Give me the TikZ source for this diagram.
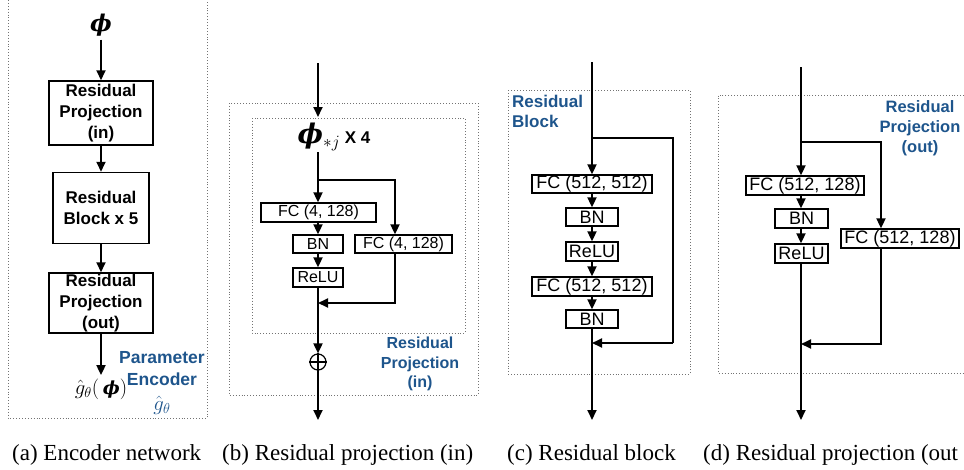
\documentclass[tikz,border=0pt]{standalone}
\usepackage{amsmath}
\usepackage{fontspec}
\setmainfont{Liberation Serif}
\setsansfont{Liberation Sans}
\newfontfamily\phifont{DejaVu Serif}
\usetikzlibrary{arrows.meta}
\definecolor{pblue}{RGB}{30,85,140}
\newcommand{\bphi}{{\phifont\bfseries\itshape ϕ}}
\begin{document}
\begin{tikzpicture}[x=1pt,y=-1pt,
  arw/.style={line width=1.8pt,-{Triangle[length=10pt,width=9pt]}},
  ln/.style={line width=1.8pt},
  dbox/.style={draw=black!55,line width=0.9pt,dotted},
  bigbox/.style={draw,line width=1.5pt,inner sep=0pt,align=center,font=\sffamily\bfseries\fontsize{17}{21}\selectfont},
  sbox/.style={draw,line width=1.3pt,inner sep=0pt,font=\sffamily\fontsize{16}{16}\selectfont},
  mbox/.style={draw,line width=1.3pt,inner sep=0pt,font=\sffamily\fontsize{18}{18}\selectfont},
  blab/.style={text=pblue,align=center,inner sep=0pt,font=\sffamily\bfseries\fontsize{16}{19.5}\selectfont},
  captext/.style={anchor=base west,inner sep=0pt,font=\fontsize{23}{23}\selectfont}]
\useasboundingbox (0,0) rectangle (964,469);

% ---------------- panel (a) ----------------
\draw[dbox] (8,0) -- (8,418) -- (207,418) -- (207,0);
\node (phi) at (101,25) {\fontsize{23}{23}\selectfont\bphi};
\node[bigbox,minimum width=104pt,minimum height=64pt] (a1) at (101,113) {Residual\\Projection\\(in)};
\node[bigbox,minimum width=96pt,minimum height=71pt] (a2) at (101,208) {Residual\\Block x 5};
\node[bigbox,minimum width=104pt,minimum height=60pt] (a3) at (101,303) {Residual\\Projection\\(out)};
\node (gout) at (101,389) {\fontsize{22}{22}\selectfont$\hat{g}_\theta($\,{\fontsize{18}{18}\selectfont\bphi}$)$};
\draw[arw] (phi) -- (phi |- a1.north);
\draw[arw] (a1) -- (a2);
\draw[arw] (a2) -- (a3);
\draw[arw] (a3) -- (gout);
\node[blab,font=\sffamily\bfseries\fontsize{17.5}{22}\selectfont] (pe) at (162,369) {Parameter\\Encoder};
\node[text=pblue,inner sep=0pt] (gh) at (162,405) {\fontsize{21}{21}\selectfont$\hat{g}_\theta$};

% ---------------- panel (b) ----------------
\draw[dbox] (229,103) rectangle (478,395);
\draw[dbox] (252,118) rectangle (465,333);
\coordinate (bin) at (318,63);
\coordinate (bintip) at (318,117);
\draw[arw] (bin) -- (bintip);
\node (phij) at (334,137) {\fontsize{27}{27}\selectfont\bphi$_{*j}$\,{\sffamily\bfseries\fontsize{17}{17}\selectfont X 4}};
\coordinate (bphi) at (318,152);
\coordinate (bsplit) at (318,180);
\coordinate (bR) at (395,180);
\coordinate (bM) at (395,303);
\node[sbox,minimum width=115pt,minimum height=19pt] (bfc1) at (318.5,212.5) {FC (4, 128)};
\node[sbox,minimum width=50pt,minimum height=18pt] (bbn) at (318,244) {BN};
\node[sbox,minimum width=97pt,minimum height=18pt] (bfc2) at (403.5,244) {FC (4, 128)};
\node[sbox,minimum width=50pt,minimum height=19pt] (brelu) at (318,277.5) {ReLU};
\node[circle,draw,line width=1.2pt,minimum size=16pt,inner sep=0pt] (bplus) at (318,362) {};
\draw[line width=1.2pt] (bplus.north) -- (bplus.south) (bplus.west) -- (bplus.east);
\coordinate (bout) at (318,420);
\draw[arw] (bphi) -- (bfc1.north -| bphi);
\draw[arw] (bsplit) -- (bR) -- (bfc2.north -| bR);
\draw[arw] (bfc1.south -| bbn) -- (bbn);
\draw[arw] (bbn) -- (brelu);
\draw[arw] (bfc2.south -| bR) -- (bM) -- (bM -| brelu);
\draw[arw] (brelu) -- (bplus);
\draw[arw] (bplus) -- (bout);
\node[blab] (blab) at (420,364) {Residual\\Projection\\(in)};

% ---------------- panel (c) ----------------
\draw[dbox] (508,90) rectangle (690,374);
\node[blab,align=left,anchor=north west,font=\sffamily\bfseries\fontsize{17}{20}\selectfont] (clab) at (512,95) {Residual\\Block};
\coordinate (cin) at (592,62);
\coordinate (csplit) at (592,138);
\coordinate (cR) at (673,138);
\coordinate (cM) at (673,343);
\coordinate (cout) at (592,420);
\node[mbox,minimum width=120pt,minimum height=18pt] (cfc1) at (592,184) {FC (512, 512)};
\node[mbox,minimum width=52pt,minimum height=18pt] (cbn1) at (592,217) {BN};
\node[mbox,minimum width=52pt,minimum height=19pt] (crelu) at (592,251.5) {ReLU};
\node[mbox,minimum width=120pt,minimum height=19pt] (cfc2) at (592,286.5) {FC (512, 512)};
\node[mbox,minimum width=52pt,minimum height=18pt] (cbn2) at (592,319) {BN};
\draw[arw] (cin) -- (cfc1);
\draw[ln] (csplit) -- (cR) -- (cM);
\draw[arw] (cM) -- (cM -| cout);
\draw[arw] (cfc1) -- (cbn1);
\draw[arw] (cbn1) -- (crelu);
\draw[arw] (crelu) -- (cfc2);
\draw[arw] (cfc2) -- (cbn2);
\draw[arw] (cbn2) -- (cout);

% ---------------- panel (d) ----------------
\draw[dbox] (964,95) -- (718,95) -- (718,373) -- (964,373);
\node[blab,font=\sffamily\bfseries\fontsize{16.5}{20}\selectfont] (dlab) at (920,128) {Residual\\Projection\\(out)};
\coordinate (din) at (801,67);
\coordinate (dsplit) at (801,142);
\coordinate (dR) at (881,142);
\coordinate (dM) at (881,344);
\coordinate (dout) at (801,420);
\node[mbox,minimum width=118pt,minimum height=19pt] (dfc1) at (805,185.5) {FC (512, 128)};
\node[mbox,minimum width=53pt,minimum height=19pt] (dbn) at (801.5,218.5) {BN};
\node[mbox,minimum width=53pt,minimum height=19pt] (drelu) at (801.5,253.5) {ReLU};
\node[mbox,minimum width=118pt,minimum height=19pt] (dfc2) at (900,238.5) {FC (512, 128)};
\draw[arw] (din) -- (dfc1.north -| din);
\draw[arw] (dsplit) -- (dR) -- (dfc2.north -| dR);
\draw[arw] (dfc1.south -| din) -- (dbn.north -| din);
\draw[arw] (dbn.south -| din) -- (drelu.north -| din);
\draw[ln] (drelu.south -| din) -- (dM -| din);
\draw[arw] (dfc2.south -| dR) -- (dM) -- (dM -| din);
\draw[arw] (dM -| din) -- (dout);

% ---------------- captions ----------------
\node[captext] (capa) at (12,460) {(a) Encoder network};
\node[captext] (capb) at (222,460) {(b) Residual projection (in)};
\node[captext] (capc) at (507,460) {(c) Residual block};
\node[captext] (capd) at (703,460) {(d) Residual projection (out};
\end{tikzpicture}
\end{document}
